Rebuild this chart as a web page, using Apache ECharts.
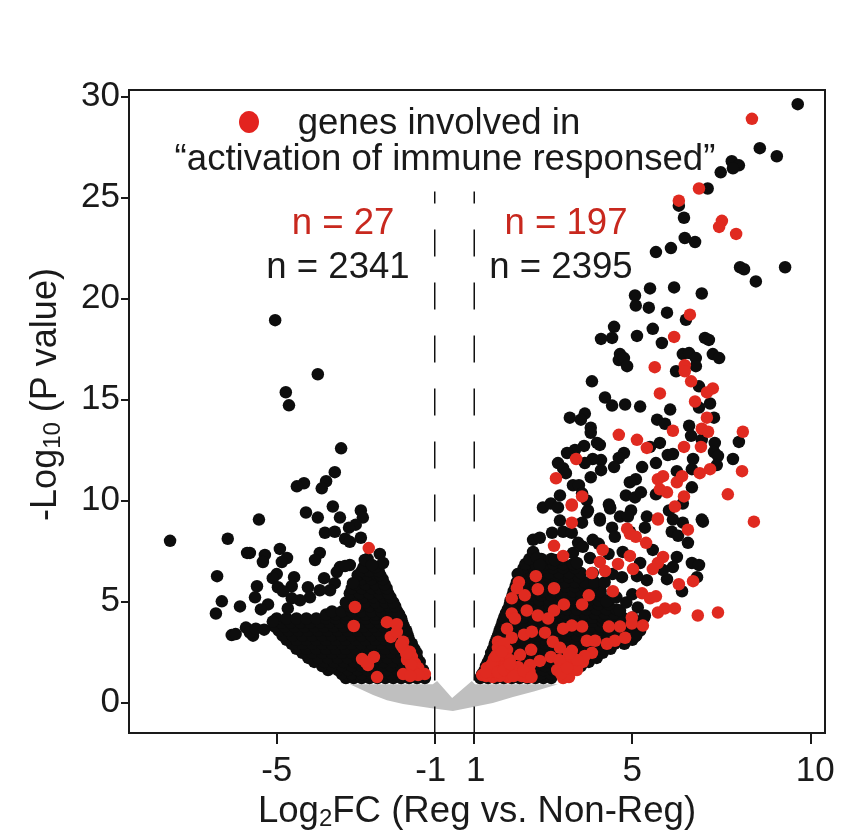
<!DOCTYPE html>
<html><head><meta charset="utf-8">
<style>html,body{margin:0;padding:0;background:#fff}#c{width:851px;height:838px}</style>
<script src="https://cdn.jsdelivr.net/npm/echarts@6/dist/echarts.min.js"></script>
</head><body><div id="c"></div>
<script>
// X values are positions on the drawn axis (its printed ticks are unevenly spaced).
const xTickPos=[-5,-1,0,4,8.53];
const xTickLabels=['-5','{l|-1}','{r1|1}','5','{r|10}'];
const yTicks=[0,5,10,15,20,25,30];
const thresholds=[-1,0];
const greyX=[-3.15,-1.05,-.94,-.56,-.06,.02,2.12,1.53,.98,.47,-.03,-.54,-1.12,-1.8,-2.21,-2.56];
const greyY=[.9,.9,1.05,.21,1.05,.9,.9,.55,.26,-.03,-.23,-.43,-.28,-.08,.1,.36];
// The solid black masses cannot be read dot by dot: these rows are estimates of their extent.
const blackLeftRows=[
[1.2,[-3.25,-3.05,-2.85,-2.65,-2.45,-2.25,-2.05,-1.85,-1.65,-1.45,-1.25]],
[1.4,[-3.35,-3.1,-2.85,-2.6,-2.35,-2.1,-1.85,-1.6,-1.35]],
[1.6,[-3.7,-3.45,-3.2,-2.95,-2.7,-2.45,-2.2,-1.95,-1.7,-1.5,-1.3]],
[1.8,[-3.85,-3.6,-3.35,-3.1,-2.85,-2.6,-2.35,-2.1,-1.85,-1.6,-1.4]],
[2.0,[-4.05,-3.8,-3.55,-3.3,-3.05,-2.8,-2.55,-2.3,-2.05,-1.8,-1.55,-1.38]],
[2.2,[-4.2,-3.95,-3.7,-3.45,-3.2,-2.95,-2.7,-2.45,-2.2,-1.95,-1.7,-1.45]],
[2.45,[-4.35,-4.1,-3.85,-3.6,-3.35,-3.1,-2.85,-2.6,-2.35,-2.1,-1.85,-1.6,-1.46]],
[2.65,[-4.5,-4.25,-4,-3.75,-3.5,-3.25,-3,-2.75,-2.5,-2.25,-2,-1.75,-1.52]],
[2.9,[-4.62,-4.35,-4.1,-3.85,-3.6,-3.35,-3.1,-2.85,-2.6,-2.35,-2.1,-1.85,-1.58]],
[3.1,[-4.75,-4.5,-4.25,-4,-3.75,-3.5,-3.25,-3,-2.75,-2.5,-2.25,-2,-1.65]],
[3.3,[-4.85,-4.6,-4.35,-4.1,-3.85,-3.6,-3.35,-3.1,-2.85,-2.6,-2.35,-2.1,-1.9,-1.68]],
[3.55,[-4.95,-4.7,-4.45,-4.2,-3.95,-3.7,-3.45,-3.2,-2.95,-2.7,-2.45,-2.2,-1.95,-1.72]],
[3.75,[-5.05,-4.8,-4.55,-4.3,-4.05,-3.8,-3.55,-3.3,-3.05,-2.8,-2.55,-2.3,-2.05,-1.78]],
[3.95,[-4.9,-4.65,-4.4,-4.15,-3.9,-3.65,-3.4,-3.15,-2.9,-2.65,-2.4,-2.15,-1.82]],
[4.15,[-5.0,-4.75,-4.5,-4.25,-4.0,-3.75,-3.5,-3.25,-3.0,-2.75,-2.5,-2.25,-2.0,-1.85]],
[4.35,[-3.75,-3.5,-3.25,-3,-2.75,-2.5,-2.25,-2,-1.9]],
[4.5,[-3.6,-3.35,-3.1,-2.85,-2.6,-2.35,-2.1,-1.95]],
[4.75,[-3.15,-2.9,-2.65,-2.4,-2.15,-2]],
[4.95,[-3.25,-3.0,-2.75,-2.5,-2.25,-2.05]],
[5.2,[-3.05,-2.8,-2.55,-2.3,-2.12]],
[5.4,[-3.15,-2.9,-2.65,-2.4,-2.18]],
[5.65,[-3.1,-2.85,-2.6,-2.4,-2.22]],
[5.85,[-3.0,-2.75,-2.5,-2.27]],
[6.1,[-2.85,-2.6,-2.32]],
[6.3,[-2.95,-2.7,-2.45,-2.38]],
[6.5,[-2.85,-2.65,-2.42]],
[6.7,[-2.8,-2.5]],
[7.1,[-2.7]]];
const blackRightRows=[
[1.2,[.15,.35,.55,.75,.95,1.15,1.35,1.55,1.75,1.95]],
[1.4,[.2,.45,.7,.95,1.2,1.45,1.7,1.95,2.2]],
[1.6,[.27,.5,.75,1.0,1.25,1.5,1.75,2.0,2.25,2.48]],
[1.8,[.3,.55,.8,1.05,1.3,1.55,1.8,2.05,2.3,2.55,2.7]],
[2.0,[.35,.6,.85,1.1,1.35,1.6,1.85,2.1,2.35,2.6,2.9]],
[2.2,[.4,.65,.9,1.15,1.4,1.65,1.9,2.15,2.4,2.65,2.9,3.1]],
[2.45,[.43,.7,.95,1.2,1.45,1.7,1.95,2.2,2.45,2.7,2.95,3.25]],
[2.65,[.48,.75,1,1.25,1.5,1.75,2,2.25,2.5,2.75,3,3.25,3.45]],
[2.9,[.52,.8,1.05,1.3,1.55,1.8,2.05,2.3,2.55,2.8,3.05,3.3,3.55,3.8]],
[3.1,[.56,.8,1.05,1.3,1.55,1.8,2.05,2.3,2.55,2.8,3.05,3.3,3.55,3.8,4.0]],
[3.3,[.6,.85,1.1,1.35,1.6,1.85,2.1,2.35,2.6,2.85,3.1,3.35,3.6,3.85,4.1]],
[3.55,[.64,.9,1.15,1.4,1.65,1.9,2.15,2.4,2.65,2.9,3.15,3.4,3.65,3.9,4.2]],
[3.75,[.68,.95,1.2,1.45,1.7,1.95,2.2,2.45,2.7,2.95,3.2,3.45,3.7,3.95,4.2]],
[4.0,[.72,1,1.25,1.5,1.75,2,2.25,2.5,2.75,3,3.25,3.5,3.75,4,4.25]],
[4.2,[.76,1.0,1.25,1.5,1.75,2.0,2.25,2.5,2.75,3.0,3.25,3.5,3.75,4.0,4.3]],
[4.4,[.8,1.05,1.3,1.55,1.8,2.05,2.3,2.55,2.8,3.05,3.3,3.55]],
[4.6,[.85,1.1,1.35,1.6,1.85,2.1,2.35,2.6,2.85,3.1,3.35,3.6]],
[4.85,[.9,1.15,1.4,1.65,1.9,2.15,2.4,2.65,2.9,3.15,3.4]],
[5.05,[.92,1.15,1.4,1.65,1.9,2.15,2.4,2.65,2.9,3.15,3.4]],
[5.3,[.97,1.2,1.45,1.7,1.95,2.2,2.45,2.7,2.95,3.2]],
[5.5,[1.0,1.25,1.5,1.75,2.0,2.25,2.5,2.7,2.95,3.2]],
[5.75,[1.05,1.3,1.55,1.8,2.05,2.3,2.55,2.8,3.0]],
[5.95,[1.08,1.3,1.55,1.8,2.05,2.3,2.55,2.8,3.05]],
[6.2,[1.15,1.4,1.65,1.9,2.15,2.4,2.65]],
[6.4,[1.2,1.45,1.7,1.9,2.15,2.4,2.7,3.0]],
[6.65,[1.25,1.5,1.75,2,2.25,2.55]],
[6.85,[1.3,1.55,1.8,2.0,2.25,2.5]],
[7.1,[1.4,1.7,1.95,2.2]]];
const blackLeftScatter=[[-5.04,18.93],[-4.77,15.36],[-4.69,14.71],[-3.96,16.25],[-3.37,12.58],[-3.53,11.4],[-4.31,10.85],[-4.49,10.7],[-3.75,10.95],[-3.86,10.6],
[-7.7,8],[-6.24,8.1],[-5.45,9.05],[-4.26,9.4],[-3.96,9.15],[-3.58,9.7],[-3.4,9.15],[-2.87,9.5],[-2.82,9.15],[-3,8.8],[-3.17,8.65],[-3.78,8.4],[-3.53,8.45],[-3.27,8.1],[-3.15,7.95],[-2.87,8.15],
[-4.92,7.6],[-5.68,7.4],[-5.75,7.4],[-5.3,7.3],[-5.35,6.95],[-4.74,7.15],[-4.87,6.95],[-3.91,7.4],[-4.03,7.05],[-2.39,7.35],[-2.77,7.05],[-2.31,6.9],[-2.59,6.8],
[-6.51,6.25],[-5,6.35],[-5.1,6.15],[-4.56,6.2],[-5.5,5.75],[-4.97,5.7],[-4.62,5.75],[-4.84,5.5],[-4.21,5.7],[-5.55,5.2],[-6.39,5],[-5.93,4.75],[-5.22,4.85],[-5.4,4.6],[-6.54,4.4],
[-6.14,3.33],[-6.04,3.38],[-5.78,3.7],[-5.6,3.3],[-5.68,3.45],[-5.53,3.65],[-5.32,3.6],[-5.1,4],
[-3.8,6.15],[-3.53,5.9],[-3.4,6.7],[-3.15,6.8],[-3.48,6.45],[-3.07,5.9],[-3.27,6.75],[-3.65,5.55],[-3.91,5.55],[-4.16,5.2],[-4.41,5.05],[-4.62,5.15],[-4.72,4.65]];
const blackRightScatter=[[8.19,29.63],[7.23,27.45],[7.66,27.05],[6.52,26.8],[6.7,26.6],[6.55,26.45],[6.24,26.25],[5.91,25.45],[5.18,24.6],[5.31,24],[5.33,23],[5.59,22.8],[4.98,22.5],[4.6,22.3],[6.73,21.55],[6.83,21.45],[7.87,21.55],[7.13,20.85],[4.45,20.5],[5.06,20.55],[5.76,20.25],[4.07,20.15],
[4.09,19.65],[4.42,19.55],[4.88,19.3],[5.36,18.95],[3.54,18.6],[3.49,18.05],[3.21,18],[4.12,18.15],[4.52,18.5],[4.75,17.8],[5.84,18.05],[5.94,17.95],[5.28,17.25],[5.44,17.3],[5.61,17.05],[5.61,16.65],[5.11,16.4],[6.04,17.25],[6.2,17.05],[3.69,17.25],[3.66,16.95],[3.79,17.05],[3.87,16.65],
[2.98,15.9],[5.69,15.65],[3.31,15.1],[3.49,14.7],[3.82,14.75],[4.2,14.65],[4.96,14.5],[5.69,14.6],[5.97,14.8],[2.8,14.3],[2.7,14],[2.42,14.1],[6.07,14.1],[4.63,14],[4.83,13.8],[2.95,13.6],[2.95,13.35],[5.44,13.7],[5.49,13.2],[5.76,13],[6.09,12.85],[6.07,12.4],[6.17,12.2],[6.7,12.9],[6.55,12.05],[6.14,11.75],
[4.7,12.85],[4.45,12.65],[3.11,12.85],[3.18,12.75],[2.78,12.7],[2.55,12.5],[2.35,12.35],[4.9,12.25],[5.03,12.3],[5.54,12.05],[5.51,11.55],[5.13,11.45],[5.51,10.65],[3.79,12.35],[3.66,12.1],[3.54,11.65],[3.21,12],[3.21,11.5],[3,12.05],[2.8,11.85],[2.12,11.85],[2.25,11.6],[2.32,11.35],[4.25,11.65],[4.6,11.85],[2.95,11.15],[4.09,11.05],[3.94,10.9],[2.5,10.75],[2.65,10.75],
[2.17,10.25],[2.73,10.35],[2.85,10],[2.88,9.5],[1.74,9.65],[1.94,9.85],[2.12,9.65],[3.84,10.25],[4.07,10.15],[4.22,10.4],[4.6,10.3],[3.41,9.8],[3.44,9.6],[3.69,9.2],[3.97,9.5],[3.89,9.2],[4.37,9.2],[3.18,9.1],[2.17,9],[4.93,9.5],[5.28,9.85],[5.76,9.05],[5.28,8.9],
[2.85,9.4],[2.73,8.9],[3.18,9],[3.44,9.65],[5.03,9.05],[5.79,8.95],[4.32,8.65],[3.49,8.65],[3.56,8.2],[3.94,8.45],[5,8.45],[5.16,8.25],[5.41,7.9],[1.97,8.4],[2.25,8.45],[2.47,8.4],[3,8.05],[2.63,7.9],[1.49,8.05],[1.66,8.15],[1.49,7.45],[1.59,7.15],[1.66,6.8],[2.04,7.05],[2.5,7.4],[2.93,7.15],[2.6,6.9],[3.76,7.45],[4.52,7.55],[4.2,6.9],[5.13,7.2],[5.03,6.7],[5.51,6.9],[5.69,6.8],[5.64,6.2],[4.88,6.1],[5.26,5.5],[4.37,6.05],[3.74,6.2],[4.12,6.25],[1.1,6.35],[4.78,6.55],[3.69,4.55],[4.14,4.7],[4.32,4.3],[4.07,3.25],
[3.3,5.95],[3.5,6.35],[2.75,7.7],[3.15,7.85],[3.4,7.35],[3.35,5.0],[3.6,5.2],[3.85,4.95],[4.0,5.35]];
const redLeft=[[-3.02,4.72],[-3.05,3.78],[-2.67,7.64],[-2.21,3.97],[-1.96,3.87],[-2.11,3.24],[-1.96,3.48],[-1.8,3],[-1.8,2.7],[-1.63,2.5],[-1.58,2.25],[-1.7,2.1],[-1.5,1.93],[-1.42,1.7],[-1.55,1.5],[-1.8,1.4],[-1.25,1.4],[-2.84,2.14],[-2.54,2.25],[-2.69,1.85],[-2.46,1.25],[-1.42,1.35],[-1.6,1.85],[-1.72,2.4],[-1.85,2.85],[-2.75,2],[-1.62,1.3]];
const redRight=[[2.47,9.75],[2.47,8.9],[4.65,9.05],[5.41,8.55],[3.87,8.6],[3.94,8.35],[4.09,8.2],[4.35,7.9],[5.08,9.7],[2.02,7.75],[2.25,7.25],[3.25,7.55],[3.94,7.25],[3.64,6.85],[3.18,6.95],[3.31,6.5],[4.02,6.6],[2.98,6.4],[4.78,7.2],[4.65,6.9],[4.52,6.6],[1.56,6.25],[1.13,5.95],[1.08,5.65],[1.61,5.6],[2.02,5.65],[.95,5.15],[1.28,5.3],[5.54,6],[5.18,5.85],[3.51,5.5],[2.9,5.3],[4.25,5.4],[4.45,5.15],[4.6,5.25],[2.73,4.85],[2.27,4.85],[2.02,4.55],[1.33,4.55],[.95,4.4],[1.03,4.15],[1.61,4.3],[1.87,4.15],[4.65,4.45],[4.83,4.65],[5.08,4.65],[5.66,4.3],[6.17,4.45],
[.83,3.65],[1.26,3.35],[1.46,3.5],[1.79,3.45],[2.25,3.65],[2.47,3.8],[2.73,3.75],[3.41,3.75],[3.69,3.75],[3.99,4.2],[3.99,3.9],[4.27,3.8],[.95,3.2],[.6,3],[1.99,3],[2.17,2.7],[2.85,3.05],[3.06,3.05],[3.36,2.9],[3.56,3.05],[3.82,3.2],[1.44,2.6],[2.47,2.55],[2.98,2.45],[1.16,2.35],[.83,2.6],[.6,2.7],[.7,2.25],[.9,2.1],[1.94,2.25],[1.66,2.05],[2.75,2],[1.41,1.85],[1.11,1.75],[2.25,1.95],[2.5,1.95],[.32,1.7],[.57,1.6],[.83,1.5],[.2,1.35],[.47,1.25],[.85,1.25],[1.33,1.25],[2.25,1.5],[2.42,1.5],[2.25,1.2],[.4,1.5],[.7,1.9],[.5,2.15],[.3,1.3],[.65,1.3],[1.05,1.4],[1.2,1.3],[1.4,1.5],[2.4,1.25],[2.6,1.6],[2.8,2.3],[2.1,1.6],[2.35,2.1],[.75,2.9],[.8,1.8],
[.3,1.5],[.45,1.9],[.6,1.5],[.75,1.6],[.55,2.3],[.7,2.5],[.95,1.7],[1,1.3],[.9,1.9],[1.25,1.55],[1.45,1.25],[2.3,1.3],[2.55,1.7],[2.6,2.1],[2.4,2.4],[2.15,2.1],[2.2,1.4],[2.35,1.7],
[5.46,19.2],[5.06,18.1],[4.57,16.6],[5.33,16.7],[5.33,16.4],[5.49,15.9],[6.04,15.55],[5.89,15.35],[4.7,15.3],[5.59,14.9],[5.89,14.1],[3.66,13.25],[4.12,13],[4.37,12.6],[5.03,13.45],[5.76,13.55],[5.92,13.4],[6.8,13.4],[5.31,12.65],[5.74,12.65],[2.58,12.05],[2.07,11.1],[5.71,11.35],[5.97,11.55],[6.78,11.45],[4.65,11.05],[4.78,11.2],[5.13,10.9],[5.26,11.2],[4.7,10.55],[4.88,10.4],[5.31,10.2],[6.42,10.3],[2.73,10.2],[2.47,9.8],[4.65,9.1],[7.08,8.95],[7.03,28.9],[5.69,25.45],[5.18,24.85],[6.27,23.85],[6.2,23.55],[6.63,23.2]];
const expand=rows=>rows.flatMap(([y,xs])=>xs.map(x=>[x,y]));
const black=[...expand(blackLeftRows),...expand(blackRightRows),...blackLeftScatter,...blackRightScatter];
const red=[...redLeft,...redRight];

const FONT='"Liberation Sans",Arial,sans-serif', TXT='#1a1a1a', REDTXT='#c8281e';
const yMin=-1.52,yMax=30.33,dashTop=25.3;
const labelText=(t,cx,cy,color)=>({type:'text',x:cx,y:cy,style:{text:t,fontFamily:FONT,fontSize:36.6,fill:color||TXT,textAlign:'center',textVerticalAlign:'middle'},z:20});
const tickRich=p=>({fontFamily:FONT,fontSize:35,color:TXT,padding:p});
const chart=echarts.init(document.getElementById('c'),null,{renderer:'canvas'});
chart.setOption({
 animation:false,backgroundColor:'#fff',
 grid:{left:129,right:26,top:90,bottom:105,show:true,borderColor:TXT,borderWidth:2,backgroundColor:'transparent'},
 xAxis:{type:'value',min:-8.74,max:8.88,splitLine:{show:false},
  axisLine:{onZero:false,lineStyle:{color:TXT,width:2}},
  axisTick:{show:true,length:11,lineStyle:{color:TXT,width:2},customValues:xTickPos},
  axisLabel:{color:TXT,fontFamily:FONT,fontSize:35,margin:21,customValues:xTickPos,hideOverlap:false,
    rich:{l:tickRich([0,8,0,0]),r1:tickRich([0,0,0,3]),r:tickRich([0,0,0,8])},
    formatter:v=>xTickLabels[xTickPos.indexOf(v)]},
  name:'{a|Log}{s|2}{a|FC (Reg vs. Non-Reg)}',nameLocation:'middle',nameGap:60,
  nameTextStyle:{rich:{a:{fontFamily:FONT,fontSize:36.6,color:TXT},s:{fontFamily:FONT,fontSize:24,color:TXT,verticalAlign:'bottom',padding:[14,0,0,0]}}}},
 yAxis:{type:'value',min:yMin,max:yMax,splitLine:{show:false},
  axisLine:{onZero:false,lineStyle:{color:TXT,width:2}},
  axisTick:{show:true,length:8,lineStyle:{color:TXT,width:2},customValues:yTicks},
  axisLabel:{color:TXT,fontFamily:FONT,fontSize:35,margin:9,customValues:yTicks,hideOverlap:false},
  name:'{a|-Log}{s|10}{a| (P value)}',nameLocation:'middle',nameGap:64,
  nameTextStyle:{padding:[0,0,0,34],rich:{a:{fontFamily:FONT,fontSize:36,color:TXT},s:{fontFamily:FONT,fontSize:24,color:TXT,verticalAlign:'bottom',padding:[14,0,0,0]}}}},
 series:[
  {type:'custom',z:1,silent:true,data:greyX.map((x,i)=>[x,greyY[i]]),encode:{x:0,y:1},
   renderItem:(p,api)=>p.dataIndex===0?{type:'polygon',shape:{points:greyX.map((x,i)=>api.coord([x,greyY[i]]))},style:{fill:'#bfbfbf'}}:null},
  ...thresholds.map(x=>({type:'line',z:2,silent:true,symbol:'none',data:[[x,dashTop],[x,yMin]],
    lineStyle:{color:'#111',width:1.5,type:[27,26],dashOffset:15}})),
  {type:'scatter',z:3,silent:true,symbolSize:12.5,large:false,data:black,itemStyle:{color:'#0d0d0d',opacity:1}},
  {type:'scatter',z:4,silent:true,symbolSize:12.5,large:false,data:red,itemStyle:{color:'#e02a20',opacity:1}}
 ],
 graphic:[
  {type:'ellipse',shape:{cx:249,cy:122,rx:10,ry:11},style:{fill:'#e3231f'},z:20},
  labelText('genes involved in',439,124),
  labelText('“activation of immune responsed”',445,160),
  labelText('n = 27',343,224,REDTXT),
  labelText('n = 2341',338,268),
  labelText('n = 197',566,224,REDTXT),
  labelText('n = 2395',561,268)
 ]
});
</script></body></html>
